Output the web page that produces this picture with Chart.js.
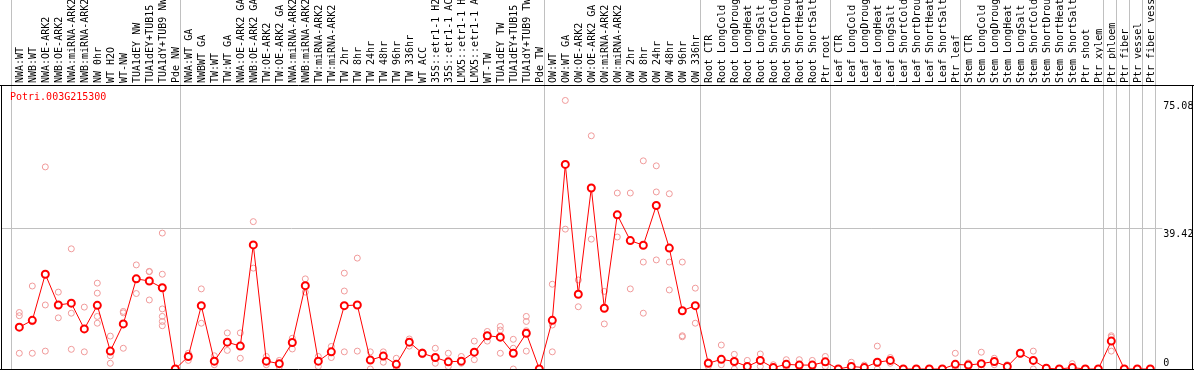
<!DOCTYPE html>
<html>
<head>
<meta charset="utf-8">
<script src="https://cdn.jsdelivr.net/npm/chart.js@4/dist/chart.umd.min.js"></script>
<style>
  html, body { margin: 0; padding: 0; background: #fff; }
  #wrap { width: 1194px; height: 370px; }
</style>
</head>
<body>
<div id="wrap"><canvas id="chart" width="1194" height="370"></canvas></div>
<script>
// sample names, in plot order
const samples = [
  'NWA:WT', 'NWB:WT', 'NWA:OE-ARK2', 'NWB:OE-ARK2', 'NWA:miRNA-ARK2', 'NWB:miRNA-ARK2',
  'NW 0hr', 'WT H2O', 'WT-NW', 'TUA1dEY NW', 'TUA1dEY+TUB15 NW', 'TUA1dY+TUB9 NW', 'Pde NW',
  'NWA:WT GA', 'NWBWT GA', 'TW:WT', 'TW:WT GA', 'NWA:OE-ARK2 GA', 'NWB:OE-ARK2 GA',
  'TW:OE-ARK2', 'TW:OE-ARK2 GA', 'NWA:miRNA-ARK2', 'NWB:miRNA-ARK2', 'TW:miRNA-ARK2', 'TW:miRNA-ARK2',
  'TW 2hr', 'TW 8hr', 'TW 24hr', 'TW 48hr', 'TW 96hr', 'TW 336hr', 'WT ACC',
  '35S::etr1-1 H2O', '35S::etr1-1 ACC', 'LMX5::etr1-1 H2O', 'LMX5::etr1-1 ACC',
  'WT-TW', 'TUA1dEY TW', 'TUA1dEY+TUB15 TW', 'TUA1dY+TUB9 TW', 'Pde TW',
  'OW:WT', 'OW:WT GA', 'OW:OE-ARK2', 'OW:OE-ARK2 GA', 'OW:miRNA-ARK2', 'OW:miRNA-ARK2',
  'OW 2hr', 'OW 8hr', 'OW 24hr', 'OW 48hr', 'OW 96hr', 'OW 336hr',
  'Root CTR', 'Root LongCold', 'Root LongDrought', 'Root LongHeat', 'Root LongSalt',
  'Root ShortCold', 'Root ShortDrought', 'Root ShortHeat', 'Root ShortSalt', 'Ptr root',
  'Leaf CTR', 'Leaf LongCold', 'Leaf LongDrought', 'Leaf LongHeat', 'Leaf LongSalt',
  'Leaf ShortCold', 'Leaf ShortDrought', 'Leaf ShortHeat', 'Leaf ShortSalt', 'Ptr leaf',
  'Stem CTR', 'Stem LongCold', 'Stem LongDrought', 'Stem LongHeat', 'Stem LongSalt',
  'Stem ShortCold', 'Stem ShortDrought', 'Stem ShortHeat', 'Stem ShortSalt', 'Ptr shoot',
  'Ptr xylem', 'Ptr phloem', 'Ptr fiber', 'Ptr vessel', 'Ptr fiber vessel'
];

// mean expression per sample (red line)
const meanValues = [
  11.7, 13.6, 26.5, 17.9, 18.4, 11.2, 17.8, 5.0, 12.6, 25.2, 24.6, 22.7, 0,
  3.5, 17.7, 2.2, 7.5, 6.4, 34.7, 2.2, 1.5, 7.4, 23.3, 2.2, 4.8,
  17.7, 17.9, 2.5, 3.6, 1.3, 7.5, 4.4, 3.2, 2.0, 2.2, 4.7, 9.3, 8.9, 4.4, 10.0, 0,
  13.6, 57.2, 20.9, 50.6, 17.0, 43.1, 35.9, 34.6, 45.7, 33.8, 16.3, 17.7,
  1.6, 2.7, 2.1, 0.7, 2.4, 0.4, 1.3, 1.1, 1.1, 2.0,
  0, 0.7, 0.4, 1.9, 2.4, 0, 0, 0, 0, 1.3,
  1.1, 1.5, 2.1, 0.7, 4.4, 2.4, 0.2, 0, 0.4, 0, 0,
  7.8, 0, 0, 0
];

// individual replicates per sample (pink circles)
const replicateValues = [
  [15.8, 14.9, 4.4], [23.2, 13.2, 4.4], [56.5, 17.9, 5.0], [21.5, 17.9, 14.3], [33.6, 15.6, 5.5],
  [17.3, 4.8], [24.0, 21.2, 14.7, 12.8], [9.2, 3.7, 1.6], [16.1, 15.7, 5.8], [29.1, 21.1],
  [27.2, 27.3, 19.3], [38.0, 26.5, 16.8, 14.7, 13.3, 12.1], [0],
  [4.4, 2.4], [22.4, 12.8], [3.7, 1.2], [10.1, 5.2], [10.1, 3.0], [41.2, 28.2], [3.5, 1.2],
  [2.4, 0.6], [8.6, 5.6], [25.2, 21.5], [3.5, 0.7], [6.3, 3.2], [26.8, 21.8, 4.8], [31.0, 5.0],
  [4.8, 0], [4.8, 1.9], [3.0, 0], [8.4, 6.4], [4.8, 4.0], [5.8, 1.6], [4.4, 0.7], [3.5, 1.6],
  [7.8, 2.6], [10.5, 7.8], [11.9, 10.9, 4.4], [8.3, 5.8, 0], [14.7, 13.3, 10.7, 5.0], [0],
  [23.7, 12.3, 4.8], [75.08, 39.1], [24.9, 17.4], [65.2, 36.3], [21.7, 12.6], [49.2, 36.9],
  [49.2, 22.4], [58.2, 29.9, 15.6], [56.8, 49.5, 30.5], [49.0, 29.9, 22.1], [29.9, 9.3, 9.0],
  [22.6, 12.8],
  [2.0, 0.7], [6.7, 1.2], [4.1, 0], [2.4, 0], [4.2, 0.7], [1.2, 0], [2.6, 0.4], [2.6, 0],
  [2.4, 0], [3.5, 0.7],
  [0], [1.9, 0], [1.1], [6.4, 0], [3.2, 1.6], [0], [0], [0], [0], [4.4, 0],
  [1.7, 0.5], [4.7, 0], [3.0, 1.2], [1.2, 0], [4.7, 4.1], [5.0, 0], [0.4, 0], [0], [1.5, 0],
  [0], [0],
  [9.3, 8.9, 5.0], [0], [0], [0]
];

const yTickLabels = [0, 39.42, 75.08];
// first sample index of each block (last entry closes the final block)
const groupStarts = [0, 13, 41, 53, 63, 73, 84, 85, 86, 87, 88];
const geneName = 'Potri.003G215300';

const monoFont = 'DejaVu Sans Mono';

// frame, separators, gene name and value labels
const framePlugin = {
  id: 'frame',
  beforeDatasetsDraw(chart) {
    const { ctx, chartArea: a, scales: { x, y } } = chart;
    ctx.save();
    ctx.strokeStyle = '#c0c0c0';
    ctx.lineWidth = 1;
    groupStarts.forEach(s => {
      const px = Math.floor(x.getPixelForValue(s - 0.615)) + 0.5;
      ctx.beginPath();
      ctx.moveTo(px, 0);
      ctx.lineTo(px, a.bottom);
      ctx.stroke();
    });
    const labelX = x.getPixelForValue(samples.length);
    const gy = Math.round(y.getPixelForValue(yTickLabels[1])) + 0.5;
    ctx.beginPath();
    ctx.moveTo(a.left, gy);
    ctx.lineTo(labelX - 1, gy);
    ctx.stroke();
    ctx.restore();
  },
  afterDatasetsDraw(chart) {
    const { ctx, chartArea: a, scales: { x, y } } = chart;
    ctx.save();
    ctx.strokeStyle = '#000';
    ctx.lineWidth = 1;
    ctx.beginPath();
    ctx.moveTo(0, a.top + 0.5);
    ctx.lineTo(chart.width, a.top + 0.5);
    ctx.moveTo(0, a.bottom + 0.5);
    ctx.lineTo(chart.width, a.bottom + 0.5);
    ctx.moveTo(a.left + 0.5, a.top);
    ctx.lineTo(a.left + 0.5, a.bottom);
    ctx.moveTo(a.right - 0.5, a.top);
    ctx.lineTo(a.right - 0.5, a.bottom);
    ctx.stroke();

    ctx.font = '10px "' + monoFont + '"';
    ctx.fillStyle = '#ff0000';
    ctx.textAlign = 'left';
    ctx.textBaseline = 'alphabetic';
    ctx.fillText(geneName, a.left + 9, a.top + 15);

    ctx.fillStyle = '#000';
    const labelX = x.getPixelForValue(samples.length);
    yTickLabels.forEach(v => {
      const py = y.getPixelForValue(v);
      if (py + 12 > a.bottom) {
        ctx.textBaseline = 'alphabetic';
        ctx.fillText(String(v), labelX, a.bottom - 3);
      } else {
        ctx.textBaseline = 'top';
        ctx.fillText(String(v), labelX, py + 1);
      }
    });
    ctx.restore();
  }
};

const meanPoints = meanValues.map((v, i) => ({ x: i, y: v }));
const replicatePoints = replicateValues.flatMap((reps, i) => reps.map(v => ({ x: i, y: v })));

new Chart(document.getElementById('chart'), {
  type: 'scatter',
  data: {
    datasets: [
      {
        label: geneName,
        data: meanPoints,
        showLine: true,
        borderColor: '#ff0000',
        borderWidth: 1,
        pointRadius: 3.5,
        pointBorderWidth: 2,
        pointBorderColor: '#ff0000',
        pointBackgroundColor: '#ffffff',
        clip: false
      },
      {
        label: 'replicates',
        data: replicatePoints,
        showLine: false,
        pointRadius: 3,
        pointBorderWidth: 1,
        pointBorderColor: '#f09a9a',
        pointBackgroundColor: 'rgba(255,255,255,0)',
        clip: false
      }
    ]
  },
  options: {
    responsive: false,
    animation: false,
    devicePixelRatio: 1,
    events: [],
    layout: { autoPadding: false, padding: { left: 1, right: 1, top: 0, bottom: 1 } },
    plugins: {
      legend: { display: false },
      tooltip: { enabled: false }
    },
    scales: {
      x: {
        type: 'linear',
        position: 'top',
        min: -1.408,
        max: 90.285,
        afterBuildTicks: s => { s.ticks = samples.map((_, i) => ({ value: i })); },
        afterFit: s => { s.height = 85; s.paddingLeft = 0; s.paddingRight = 0; },
        grid: { display: false, drawTicks: false },
        border: { display: false },
        ticks: {
          autoSkip: false,
          minRotation: 90,
          maxRotation: 90,
          padding: 2,
          labelOffset: 13,
          color: '#000',
          font: { family: monoFont, size: 10 },
          callback: v => samples[v]
        }
      },
      y: {
        display: false,
        min: 0,
        max: 79.4
      }
    }
  },
  plugins: [framePlugin]
});
</script>
</body>
</html>
